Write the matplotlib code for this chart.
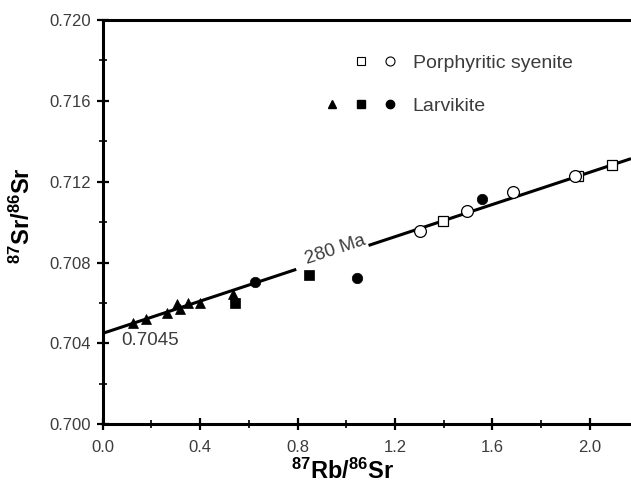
"""Rb-Sr isochron for the Larvik plutonic complex (porphyritic syenite and larvikite)."""

from __future__ import annotations

import numpy as np
import matplotlib

matplotlib.use("Agg")
import matplotlib.pyplot as plt
from matplotlib.lines import Line2D
from matplotlib.legend_handler import HandlerTuple
from matplotlib.ticker import MultipleLocator, FormatStrFormatter
from matplotlib.transforms import offset_copy

# --- data ------------------------------------------------------------------
syenite_square_rb = [1.398, 1.952, 2.089]
syenite_square_sr = [0.71007, 0.71228, 0.71283]
syenite_circle_rb = [1.303, 1.494, 1.686, 1.939]
syenite_circle_sr = [0.70958, 0.71057, 0.71151, 0.71228]

larv_triangle_rb = [0.126, 0.178, 0.263, 0.306, 0.317, 0.351, 0.399, 0.534]
larv_triangle_sr = [0.70503, 0.70519, 0.70549, 0.70595, 0.70569, 0.70599, 0.70602, 0.70643]
larv_square_rb = [0.543, 0.848]
larv_square_sr = [0.70599, 0.70739]
larv_circle_rb = [0.625, 1.045, 1.558]
larv_circle_sr = [0.70705, 0.70722, 0.71113]

AGE_MA = 280.0
INITIAL_RATIO = 0.7045
DECAY_CONST = 1.42e-11  # 87Rb, per year

XLIM = (0.0, 2.169)
YLIM = (0.700, 0.720)
TEXT_GRAY = "#3c3c3c"

plt.rcParams["font.family"] = ["Liberation Sans", "DejaVu Sans"]
plt.rcParams["mathtext.fontset"] = "custom"
plt.rcParams["mathtext.rm"] = "Liberation Sans"
plt.rcParams["mathtext.bf"] = "Liberation Sans:bold"


def _isochron_slope(age_ma: float) -> float:
    """Slope of a Rb-Sr isochron for a given age."""
    return float(np.exp(DECAY_CONST * age_ma * 1e6) - 1.0)


def main() -> None:
    fig = plt.figure(figsize=(6.31, 4.95), dpi=100)
    ax = fig.add_axes([0.1628, 0.1428, 0.8372, 0.8168])

    slope = _isochron_slope(AGE_MA)
    xs = np.array(XLIM)
    ax.plot(xs, INITIAL_RATIO + slope * xs, color="black", lw=2.2, zorder=2,
            solid_capstyle="butt")

    open_kw = dict(ls="none", mfc="white", mec="black", mew=0.9, zorder=4)
    fill_kw = dict(ls="none", mfc="black", mec="black", mew=0.5, zorder=4)
    ax.plot(syenite_square_rb, syenite_square_sr, marker="s", ms=7.5, **open_kw)
    ax.plot(syenite_circle_rb, syenite_circle_sr, marker="o", ms=8.5, **open_kw)
    ax.plot(larv_triangle_rb, larv_triangle_sr, marker="^", ms=7.5, **fill_kw)
    ax.plot(larv_square_rb, larv_square_sr, marker="s", ms=7.0, **fill_kw)
    ax.plot(larv_circle_rb, larv_circle_sr, marker="o", ms=7.5, **fill_kw)

    # age label: a white gap cut in the line, the text sitting just above it
    angle = np.degrees(np.arctan(slope * (404.3 / 0.020) / 243.6))
    gap_x = 0.943
    ax.text(gap_x, INITIAL_RATIO + slope * gap_x, " " * 14, rotation=angle,
            rotation_mode="anchor", ha="center", va="center", fontsize=13.5,
            zorder=3, bbox=dict(fc="white", ec="none", pad=1.0))
    label_x = 0.954
    lifted = offset_copy(ax.transData, fig=fig, x=0.0, y=5.0, units="points")
    ax.text(label_x, INITIAL_RATIO + slope * label_x, f"{AGE_MA:.0f} Ma",
            transform=lifted, rotation=angle, rotation_mode="anchor",
            ha="center", va="center", fontsize=13.5, color=TEXT_GRAY, zorder=3)
    ax.text(0.078, 0.70417, f"{INITIAL_RATIO:.4f}", ha="left", va="center",
            fontsize=13.5, color=TEXT_GRAY, zorder=3)

    # legend: markers grouped per rock type
    blank = Line2D([], [], ls="none", marker=None)
    o_sq = Line2D([], [], marker="s", ms=5.5, mfc="white", mec="black", mew=0.8, ls="none")
    o_ci = Line2D([], [], marker="o", ms=6.5, mfc="white", mec="black", mew=0.8, ls="none")
    f_tr = Line2D([], [], marker="^", ms=5.5, color="black", ls="none")
    f_sq = Line2D([], [], marker="s", ms=5.5, color="black", ls="none")
    f_ci = Line2D([], [], marker="o", ms=6.0, color="black", ls="none")
    leg = ax.legend(
        [(blank, o_sq, o_ci), (f_tr, f_sq, f_ci)],
        ["Porphyritic syenite", "Larvikite"],
        handler_map={tuple: HandlerTuple(ndivide=None, pad=0.0)},
        loc="center left", bbox_to_anchor=(0.4066, 0.8405),
        frameon=False, borderpad=0.0, borderaxespad=0.0,
        handlelength=4.45, handletextpad=0.45, labelspacing=1.3,
        fontsize=14,
    )
    for text in leg.get_texts():
        text.set_color(TEXT_GRAY)

    ax.set_xlim(*XLIM)
    ax.set_ylim(*YLIM)
    ax.xaxis.set_major_locator(MultipleLocator(0.4))
    ax.xaxis.set_minor_locator(MultipleLocator(0.2))
    ax.yaxis.set_major_locator(MultipleLocator(0.004))
    ax.yaxis.set_minor_locator(MultipleLocator(0.002))
    ax.xaxis.set_major_formatter(FormatStrFormatter("%.1f"))
    ax.yaxis.set_major_formatter(FormatStrFormatter("%.3f"))
    ax.tick_params(which="major", direction="inout", length=9, width=1.6,
                   labelsize=12, labelcolor=TEXT_GRAY)
    ax.tick_params(which="minor", direction="inout", length=6, width=1.2)
    ax.tick_params(axis="x", which="major", pad=7)
    ax.tick_params(axis="y", which="major", pad=4)

    for side in ("left", "bottom", "top"):
        ax.spines[side].set_linewidth(2.2)
    ax.spines["right"].set_visible(False)

    ax.set_xlabel(r"$\mathbf{^{87}Rb/^{86}Sr}$", fontsize=17)
    ax.xaxis.set_label_coords(0.455, -0.085)
    ax.set_ylabel(r"$\mathbf{^{87}Sr/^{86}Sr}$", fontsize=17)
    ax.yaxis.set_label_coords(-0.128, 0.515)

    fig.savefig("out.png", dpi=100)
    plt.close(fig)


if __name__ == "__main__":
    main()
